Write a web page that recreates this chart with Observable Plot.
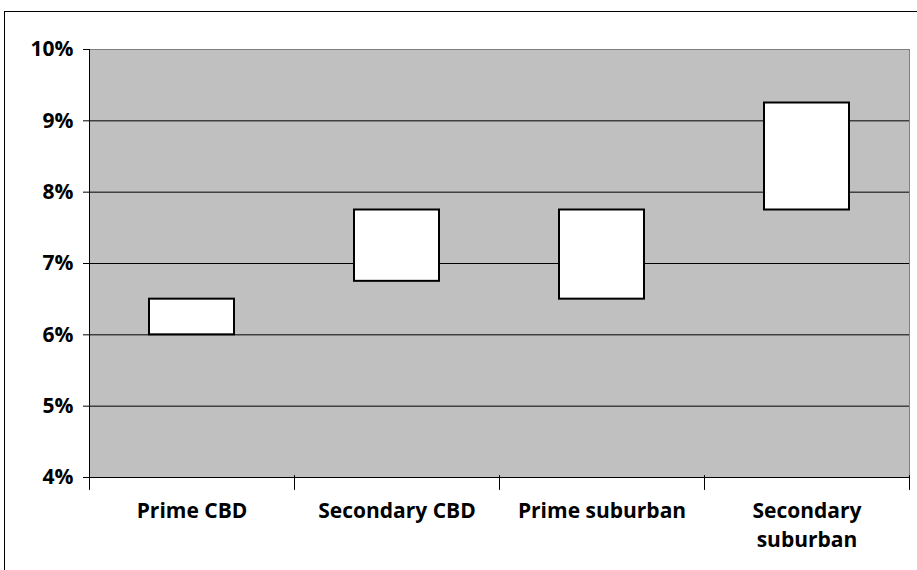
<!DOCTYPE html>
<html>
<head>
<meta charset="utf-8">
<script src="https://cdn.jsdelivr.net/npm/d3@7"></script>
<script src="https://cdn.jsdelivr.net/npm/@observablehq/plot@0.6"></script>
<style>
  body { margin: 0; background: #fff; }
  #chart { position: relative; width: 917px; height: 570px; overflow: hidden; }
  #chart .edge { position: absolute; left: 4px; top: 11px; width: 2000px; height: 2000px; border: 1px solid #000; pointer-events: none; }
  #chart svg { display: block; }
</style>
</head>
<body>
<div id="chart"><div class="edge"></div></div>
<script>
// Yield ranges by office market segment
const categories = ["Prime CBD", "Secondary CBD", "Prime suburban", "Secondary suburban"];
const categoryLabels = ["Prime CBD", "Secondary CBD", "Prime suburban", "Secondary\nsuburban"];
const lowYield = [0.06, 0.0675, 0.065, 0.0775];
const highYield = [0.065, 0.0775, 0.0775, 0.0925];
const yTicks = [0.04, 0.05, 0.06, 0.07, 0.08, 0.09, 0.10];

const rows = categories.map((c, i) => ({category: c, low: lowYield[i], high: highYield[i]}));

const width = 917, height = 570;
const margin = {top: 49, right: 8, bottom: 93, left: 89};
const bandWidth = (width - margin.left - margin.right) / categories.length;

// crossing tick: 8px into the plot, 6px below the axis
const crossTick = {
  draw(context) {
    context.moveTo(0, 6);
    context.lineTo(0, -8);
  }
};

const chart = Plot.plot({
  width, height,
  marginTop: margin.top, marginRight: margin.right,
  marginBottom: margin.bottom, marginLeft: margin.left,
  style: {fontFamily: "'Open Sans', sans-serif", fontSize: "21px", fontWeight: "bold", color: "#000", background: "transparent", overflow: "visible"},
  x: {type: "band", domain: categories, padding: 0, axis: null},
  y: {domain: [0.04, 0.10], axis: null},
  marks: [
    Plot.frame({fill: "#c0c0c0", stroke: "#808080"}),
    Plot.gridY(yTicks.slice(1, -1), {stroke: "#000", strokeOpacity: 1}),
    Plot.frame({anchor: "left", stroke: "#000"}),
    Plot.frame({anchor: "bottom", stroke: "#000"}),
    Plot.axisY(yTicks, {tickSize: 6, tickPadding: 10, tickFormat: d3.format(".0%"), fontSize: 21, fontWeight: "bold", stroke: "#000", label: null}),
    Plot.vector(categories, {x: d => d, y: () => 0.04, dx: -bandWidth / 2, shape: crossTick, stroke: "#000", strokeWidth: 1}),
    Plot.vector(categories.slice(-1), {x: d => d, y: () => 0.04, dx: bandWidth / 2, shape: crossTick, stroke: "#000", strokeWidth: 1}),
    Plot.axisX(categories, {tickSize: 0, tickPadding: 20, tickFormat: d => categoryLabels[categories.indexOf(d)], fontSize: 21, fontWeight: "bold", lineHeight: 1.38, label: null}),
    Plot.barY(rows, {x: "category", y1: "low", y2: "high", fill: "#fff", stroke: "#000", strokeWidth: 2, insetLeft: 60, insetRight: 60})
  ]
});

document.getElementById("chart").appendChild(chart);
</script>
</body>
</html>
